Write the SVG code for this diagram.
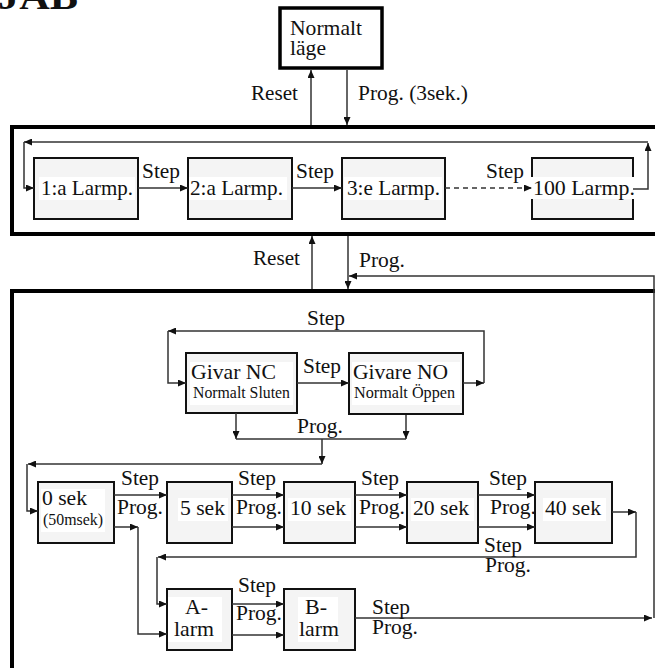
<svg xmlns="http://www.w3.org/2000/svg" width="655" height="668" viewBox="0 0 655 668">
<defs>
<marker id="ah" markerUnits="userSpaceOnUse" markerWidth="9" markerHeight="7" refX="8" refY="3.5" orient="auto">
<path d="M0,0 L8,3.5 L0,7 z" fill="#111"/>
</marker>
<style>
text{font-family:'Liberation Serif','Times New Roman',serif;font-size:21.5px;fill:#111}
.sm{font-size:17px}
.xs{font-size:16px}
.h{font-size:37px;font-weight:bold}
.box{fill:#f4f4f4;stroke:#111;stroke-width:2}
.bg{fill:#fff}
.frame{fill:none;stroke:#000;stroke-width:4}
.c{fill:none;stroke:#333;stroke-width:1.5}
.a{marker-end:url(#ah)}
.d{stroke-dasharray:5,4}
</style>
</defs>
<text class="h" x="-2" y="9" textLength="80" lengthAdjust="spacingAndGlyphs">JAB</text>
<g id="frames">
<rect class="frame" x="12" y="127" width="660" height="107"/>
<path class="frame" d="M12,672 L12,291 L670,291"/>
</g>
<g id="normalt">
<rect x="280" y="8" width="102" height="60" fill="#fff" stroke="#000" stroke-width="3.5"/>
<text x="290" y="35" textLength="72" lengthAdjust="spacingAndGlyphs">Normalt</text>
<text x="290" y="55" textLength="36" lengthAdjust="spacingAndGlyphs">läge</text>
</g>
<g id="l1"><rect class="box" x="34" y="158" width="104" height="61"/><rect class="bg" x="39" y="177" width="96" height="23"/><text x="41" y="195" textLength="92" lengthAdjust="spacingAndGlyphs">1:a Larmp.</text></g>
<g id="l2"><rect class="box" x="188" y="158" width="104" height="61"/><rect class="bg" x="189" y="177" width="98" height="23"/><text x="190" y="195" textLength="93" lengthAdjust="spacingAndGlyphs">2:a Larmp.</text></g>
<g id="l3"><rect class="box" x="342" y="158" width="103" height="61"/><rect class="bg" x="344" y="177" width="98" height="23"/><text x="347" y="195" textLength="93" lengthAdjust="spacingAndGlyphs">3:e Larmp.</text></g>
<g id="l100"><rect class="box" x="532" y="158" width="101" height="61"/><rect class="bg" x="530" y="177" width="108" height="22"/><text x="533" y="195" textLength="102" lengthAdjust="spacingAndGlyphs">100 Larmp.</text></g>
<g id="givarnc"><rect class="box" x="186" y="353" width="111" height="60"/><rect class="bg" x="190" y="362" width="103" height="43"/><text x="191" y="379" textLength="85" lengthAdjust="spacingAndGlyphs">Givar NC</text><text class="sm" x="193" y="398" textLength="97" lengthAdjust="spacingAndGlyphs">Normalt Sluten</text></g>
<g id="givareno"><rect class="box" x="349" y="353" width="114" height="61"/><rect class="bg" x="352" y="362" width="108" height="43"/><text x="353" y="379" textLength="95" lengthAdjust="spacingAndGlyphs">Givare NO</text><text class="sm" x="354" y="398" textLength="101" lengthAdjust="spacingAndGlyphs">Normalt Öppen</text></g>
<g id="s0"><rect class="box" x="38" y="482" width="76" height="61"/><rect class="bg" x="41" y="489" width="64" height="43"/><text x="42" y="505" textLength="45" lengthAdjust="spacingAndGlyphs">0 sek</text><text class="xs" x="43" y="525" textLength="60" lengthAdjust="spacingAndGlyphs">(50msek)</text></g>
<g id="s5"><rect class="box" x="167" y="482" width="65" height="61"/><rect class="bg" x="178" y="498" width="50" height="23"/><text x="180" y="515" textLength="45" lengthAdjust="spacingAndGlyphs">5 sek</text></g>
<g id="s10"><rect class="box" x="284" y="482" width="71" height="61"/><rect class="bg" x="288" y="498" width="63" height="23"/><text x="290" y="515" textLength="56" lengthAdjust="spacingAndGlyphs">10 sek</text></g>
<g id="s20"><rect class="box" x="407" y="482" width="71" height="61"/><rect class="bg" x="411" y="498" width="63" height="23"/><text x="413" y="515" textLength="56" lengthAdjust="spacingAndGlyphs">20 sek</text></g>
<g id="s40"><rect class="box" x="535" y="482" width="77" height="61"/><rect class="bg" x="543" y="498" width="63" height="23"/><text x="545" y="515" textLength="56" lengthAdjust="spacingAndGlyphs">40 sek</text></g>
<g id="alarm"><rect class="box" x="167" y="589" width="65" height="61"/><rect class="bg" x="168" y="597" width="54" height="45"/><text x="185" y="614" textLength="23" lengthAdjust="spacingAndGlyphs">A-</text><text x="174" y="636" textLength="40" lengthAdjust="spacingAndGlyphs">larm</text></g>
<g id="blarm"><rect class="box" x="284" y="589" width="71" height="61"/><rect class="bg" x="298" y="597" width="40" height="45"/><text x="305" y="614" textLength="22" lengthAdjust="spacingAndGlyphs">B-</text><text x="299" y="636" textLength="40" lengthAdjust="spacingAndGlyphs">larm</text></g>
<g id="connectors">
<path class="c a" d="M311,125 L311,70"/>
<path class="c a" d="M347,70 L347,125"/>
<path class="c a" d="M633,189 L648,189 L648,143"/>
<path class="c a" d="M648,142 L24,142"/>
<path class="c a" d="M24,142 L24,188 L34,188"/>
<path class="c a" d="M138,188 L188,188"/>
<path class="c a" d="M292,188 L342,188"/>
<path class="c a d" d="M445,188 L532,188"/>
<path class="c a" d="M312,289 L312,236"/>
<path class="c a" d="M348,236 L348,289"/>
<path class="c a" d="M654,618 L654,276 L349,276"/>
<path class="c a" d="M463,383 L484,383"/>
<path class="c a" d="M484,383 L484,331 L168,331"/>
<path class="c a" d="M168,331 L168,383 L186,383"/>
<path class="c a" d="M297,383 L349,383"/>
<path class="c a" d="M236,413 L236,439"/>
<path class="c a" d="M406,415 L406,439"/>
<path class="c" d="M236,439 L406,439"/>
<path class="c a" d="M322,439 L322,464"/>
<path class="c a" d="M322,464 L28,464"/>
<path class="c a" d="M27,464 L27,511 L38,511"/>
<path class="c a" d="M114,495 L167,495"/>
<path class="c a" d="M114,527 L138,527"/>
<path class="c a" d="M138,527 L138,634 L167,634"/>
<path class="c a" d="M232,495 L284,495"/>
<path class="c a" d="M232,527 L284,527"/>
<path class="c a" d="M355,495 L407,495"/>
<path class="c a" d="M355,527 L407,527"/>
<path class="c a" d="M478,495 L535,495"/>
<path class="c a" d="M478,527 L535,527"/>
<path class="c a" d="M612,512 L636,512"/>
<path class="c a" d="M636,512 L636,557 L158,557"/>
<path class="c a" d="M157,557 L157,604 L167,604"/>
<path class="c a" d="M232,604 L284,604"/>
<path class="c a" d="M232,635 L284,635"/>
<path class="c a" d="M355,618 L652,618"/>
</g>
<g id="labels">
<text x="251" y="100" textLength="47" lengthAdjust="spacingAndGlyphs">Reset</text>
<text x="358" y="100" textLength="110" lengthAdjust="spacingAndGlyphs">Prog. (3sek.)</text>
<text x="142" y="178" textLength="38" lengthAdjust="spacingAndGlyphs">Step</text>
<text x="296" y="178" textLength="38" lengthAdjust="spacingAndGlyphs">Step</text>
<text x="486" y="178" textLength="38" lengthAdjust="spacingAndGlyphs">Step</text>
<text x="253" y="265" textLength="47" lengthAdjust="spacingAndGlyphs">Reset</text>
<text x="359" y="267" textLength="46" lengthAdjust="spacingAndGlyphs">Prog.</text>
<text x="307" y="325" textLength="38" lengthAdjust="spacingAndGlyphs">Step</text>
<text x="303" y="373" textLength="38" lengthAdjust="spacingAndGlyphs">Step</text>
<text x="297" y="433" textLength="46" lengthAdjust="spacingAndGlyphs">Prog.</text>
<text x="121" y="485" textLength="38" lengthAdjust="spacingAndGlyphs">Step</text>
<text x="117" y="514" textLength="46" lengthAdjust="spacingAndGlyphs">Prog.</text>
<text x="238" y="485" textLength="38" lengthAdjust="spacingAndGlyphs">Step</text>
<text x="236" y="514" textLength="46" lengthAdjust="spacingAndGlyphs">Prog.</text>
<text x="361" y="485" textLength="38" lengthAdjust="spacingAndGlyphs">Step</text>
<text x="359" y="514" textLength="46" lengthAdjust="spacingAndGlyphs">Prog.</text>
<text x="489" y="485" textLength="38" lengthAdjust="spacingAndGlyphs">Step</text>
<text x="490" y="514" textLength="46" lengthAdjust="spacingAndGlyphs">Prog.</text>
<text x="484" y="552" textLength="38" lengthAdjust="spacingAndGlyphs">Step</text>
<text x="485" y="572" textLength="46" lengthAdjust="spacingAndGlyphs">Prog.</text>
<text x="238" y="592" textLength="38" lengthAdjust="spacingAndGlyphs">Step</text>
<text x="236" y="620" textLength="46" lengthAdjust="spacingAndGlyphs">Prog.</text>
<text x="372" y="614" textLength="38" lengthAdjust="spacingAndGlyphs">Step</text>
<text x="372" y="634" textLength="46" lengthAdjust="spacingAndGlyphs">Prog.</text>
</g>
</svg>
